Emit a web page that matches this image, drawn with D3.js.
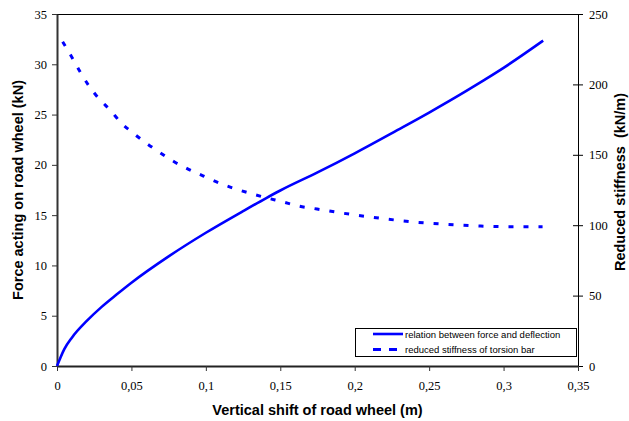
<!DOCTYPE html>
<html lang="en">
<head>
<meta charset="utf-8">
<title>Force and reduced stiffness vs vertical shift</title>
<style>
  body { margin: 0; background: #fff; }
</style>
</head>
<body>
<script src="https://cdn.jsdelivr.net/npm/d3@7"></script>
<script>
// relation between force and deflection (left axis, kN)
const forceShift = [0, 0.0025, 0.005, 0.01, 0.02, 0.03, 0.04, 0.05, 0.075, 0.1, 0.125, 0.1406, 0.15, 0.175, 0.2, 0.2286, 0.25, 0.275, 0.2869, 0.3, 0.3266];
const forceValues = [0, 0.9, 1.7, 2.82, 4.48, 5.88, 7.1, 8.28, 10.9, 13.25, 15.4, 16.7, 17.45, 19.25, 21.15, 23.45, 25.2, 27.35, 28.43, 29.65, 32.35];

// reduced stiffness of torsion bar (right axis, kN/m)
const stiffShift = [0.0038, 0.0098, 0.0155, 0.0215, 0.028, 0.0357, 0.043, 0.0513, 0.0603, 0.0693, 0.0787, 0.0884, 0.0984, 0.1085, 0.1187, 0.1299, 0.1406, 0.1512, 0.1624, 0.1747, 0.2, 0.2174, 0.2376, 0.26, 0.2847, 0.305, 0.3262];
const stiffValues = [230.3, 219.7, 209, 198.9, 190.1, 181.8, 172.8, 165.3, 158, 151.5, 145.1, 139.7, 134.9, 130.2, 126.2, 122.6, 119.5, 116.7, 113.6, 111.5, 107.3, 104.9, 102.5, 100.7, 99.4, 98.9, 98.9];

const xTicks = [0, 0.05, 0.1, 0.15, 0.2, 0.25, 0.3, 0.35];
const leftTicks = [0, 5, 10, 15, 20, 25, 30, 35];
const rightTicks = [0, 50, 100, 150, 200, 250];
const legendLabels = ["relation between force and deflection", "reduced stiffness of torsion bar"];

const width = 629, height = 421;
const plotL = 57, plotR = 578, plotT = 14, plotB = 366;
const blue = "#0000ff";
const serif = "'Liberation Serif', 'Times New Roman', 'DejaVu Serif', serif";
const sans = "'Liberation Sans', Arial, sans-serif";

const svg = d3.select("body").append("svg")
    .attr("width", width)
    .attr("height", height);

const x = d3.scaleLinear().domain([0, 0.35]).range([plotL, plotR]);
const yL = d3.scaleLinear().domain([0, 35]).range([plotB, plotT]);
const yR = d3.scaleLinear().domain([0, 250]).range([plotB, plotT]);

const fmt = d => String(d).replace(".", ",");

function styleTicks(g) {
    g.attr("font-family", null).attr("font-size", null);
    g.selectAll(".tick text")
        .style("font-family", serif)
        .style("font-size", "12.5px")
        .attr("fill", "#000");
}

// top border
svg.append("line")
    .attr("x1", plotL).attr("x2", plotR)
    .attr("y1", plotT + 0.5).attr("y2", plotT + 0.5)
    .attr("stroke", "#000").attr("stroke-width", 1);

// right axis (ticks cross the line)
const rAxis = svg.append("g")
    .attr("transform", `translate(${plotR},0)`)
    .call(d3.axisRight(yR).tickValues(rightTicks).tickSize(5).tickPadding(6).tickSizeOuter(0))
    .call(styleTicks);
rAxis.select(".domain").attr("stroke", "#000");
rAxis.selectAll(".tick line").attr("x1", -5).attr("stroke", "#000");

// left axis
const lAxis = svg.append("g")
    .attr("transform", `translate(${plotL},0)`)
    .call(d3.axisLeft(yL).tickValues(leftTicks).tickSize(5).tickPadding(5).tickSizeOuter(0))
    .call(styleTicks);
lAxis.select(".domain").attr("stroke", "#333").attr("stroke-width", 2);
lAxis.selectAll(".tick line").attr("stroke", "#333");

// bottom axis
const bAxis = svg.append("g")
    .attr("transform", `translate(0,${plotB})`)
    .call(d3.axisBottom(x).tickValues(xTicks).tickFormat(fmt).tickSize(5).tickPadding(10).tickSizeOuter(0))
    .call(styleTicks);
bAxis.select(".domain").attr("stroke", "#222").attr("stroke-width", 2);
bAxis.selectAll(".tick line").attr("stroke", "#333");

// series
const forceLine = d3.line()
    .x((d, i) => x(forceShift[i]))
    .y(d => yL(d))
    .curve(d3.curveMonotoneX);
svg.append("path")
    .attr("d", forceLine(forceValues))
    .attr("fill", "none")
    .attr("stroke", blue)
    .attr("stroke-width", 2.6);

const stiffLine = d3.line()
    .x((d, i) => x(stiffShift[i]))
    .y(d => yR(d))
    .curve(d3.curveMonotoneX);
svg.append("path")
    .attr("d", stiffLine(stiffValues))
    .attr("fill", "none")
    .attr("stroke", blue)
    .attr("stroke-width", 3)
    .attr("stroke-dasharray", "5,10");

// axis titles
const titles = svg.append("g")
    .style("font-family", sans)
    .style("font-weight", "bold")
    .style("font-size", "14.5px");

titles.append("text")
    .attr("transform", `translate(23,${(plotT + plotB) / 2}) rotate(-90)`)
    .attr("text-anchor", "middle")
    .text("Force acting on road wheel (kN)");

titles.append("text")
    .attr("transform", `translate(625,${(plotT + plotB) / 2 - 8}) rotate(-90)`)
    .attr("text-anchor", "middle")
    .style("white-space", "pre")
    .text("Reduced stiffness  (kN/m)");

titles.append("text")
    .attr("x", (plotL + plotR) / 2)
    .attr("y", 415)
    .attr("text-anchor", "middle")
    .text("Vertical shift of road wheel (m)");

// legend
const lg = svg.append("g")
    .style("font-family", sans)
    .style("font-size", "9.5px");
lg.append("rect")
    .attr("x", 355.5).attr("y", 328.5)
    .attr("width", 221).attr("height", 28)
    .attr("fill", "#fff").attr("stroke", "#000").attr("stroke-width", 1);
lg.append("line")
    .attr("x1", 373).attr("x2", 403).attr("y1", 334).attr("y2", 334)
    .attr("stroke", blue).attr("stroke-width", 2.6);
lg.append("line")
    .attr("x1", 373).attr("x2", 397).attr("y1", 349.5).attr("y2", 349.5)
    .attr("stroke", blue).attr("stroke-width", 3).attr("stroke-dasharray", "8,8");
lg.selectAll("text.item")
    .data(legendLabels)
    .join("text")
    .attr("class", "item")
    .attr("x", 405)
    .attr("y", (d, i) => 337.5 + i * 15)
    .text(d => d);
</script>
</body>
</html>
